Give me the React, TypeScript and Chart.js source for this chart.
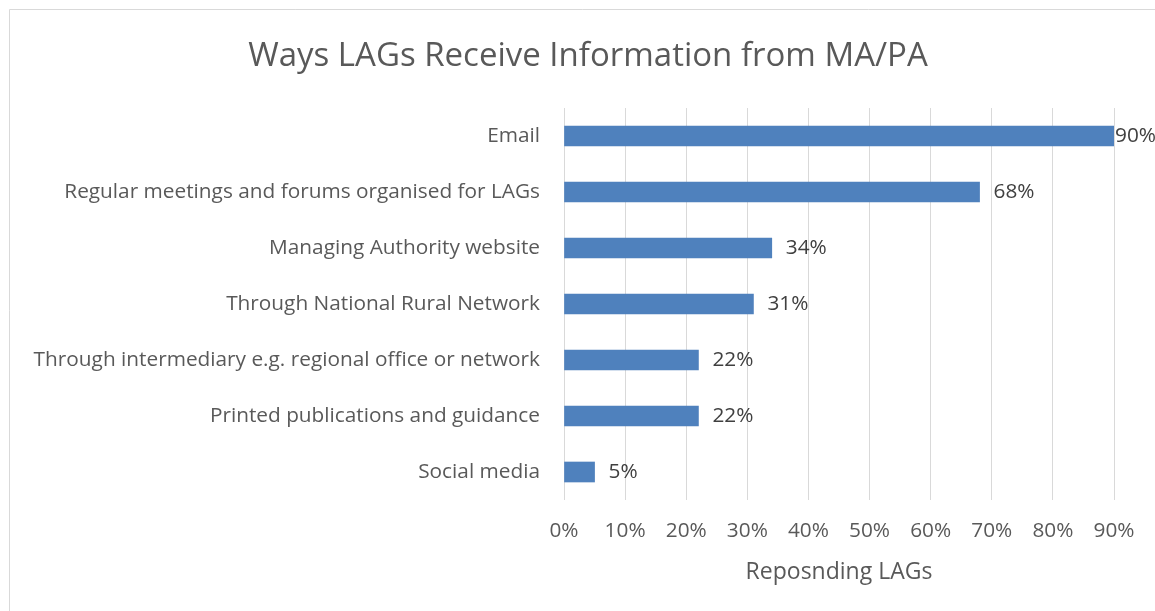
import React, { useEffect, useRef } from "react";
import { Chart, registerables } from "chart.js";

Chart.register(...registerables);

const categories = [
  "Email",
  "Regular meetings and forums organised for LAGs",
  "Managing Authority website",
  "Through National Rural Network",
  "Through intermediary e.g. regional office or network",
  "Printed publications and guidance",
  "Social media",
];
const values = [90, 68, 34, 31, 22, 22, 5];
const xTicks = [0, 10, 20, 30, 40, 50, 60, 70, 80, 90];
const titleText = "Ways LAGs Receive Information from MA/PA";
const xAxisTitle = "Reposnding LAGs";

const FONT = "'Open Sans', 'Noto Sans', sans-serif";

export default function App() {
  const ref = useRef<HTMLCanvasElement | null>(null);

  useEffect(() => {
    if (!ref.current) return;
    const W = 1155;
    const H = 611;
    const plotLeft = 564;
    const plotRight = 1114;
    const plotTop = 108;
    const plotBottom = 500;
    const padR = W - plotRight;
    const padL = 0;

    const bgPlugin = {
      id: "bgBorder",
      beforeDraw(chart: any) {
        const ctx = chart.ctx;
        ctx.save();
        ctx.fillStyle = "#ffffff";
        ctx.fillRect(0, 0, chart.width, chart.height);
        ctx.strokeStyle = "#D9D9D9";
        ctx.lineWidth = 1;
        ctx.beginPath();
        ctx.moveTo(9.5, chart.height);
        ctx.lineTo(9.5, 9.5);
        ctx.lineTo(chart.width, 9.5);
        ctx.stroke();
        ctx.restore();
      },
    };

    const titlePlugin = {
      id: "centeredTitle",
      afterDraw(chart: any) {
        const ctx = chart.ctx;
        ctx.save();
        ctx.font = `33px ${FONT}`;
        ctx.fillStyle = "#595959";
        ctx.textAlign = "center";
        ctx.textBaseline = "middle";
        ctx.fillText(titleText, 588, 57);
        ctx.restore();
      },
    };

    const labelPlugin = {
      id: "valueLabels",
      afterDatasetsDraw(chart: any) {
        const ctx = chart.ctx;
        const meta = chart.getDatasetMeta(0);
        ctx.save();
        ctx.font = `20.8px ${FONT}`;
        ctx.fillStyle = "#404040";
        ctx.textAlign = "left";
        ctx.textBaseline = "middle";
        meta.data.forEach((bar: any, i: number) => {
          const txt = values[i] + "%";
          const w = ctx.measureText(txt).width;
          let x = bar.x + 14;
          if (x + w > chart.width) x = Math.max(bar.x + 1, chart.width - w);
          ctx.fillText(txt, x, bar.y);
        });
        ctx.restore();
      },
    };

    const chart = new Chart(ref.current, {
      type: "bar",
      data: {
        labels: categories,
        datasets: [
          {
            data: values,
            backgroundColor: "#4F81BD",
            borderWidth: 0,
            barThickness: 20,
          },
        ],
      },
      options: {
        indexAxis: "y",
        responsive: false,
        animation: false,
        maintainAspectRatio: false,
        layout: { padding: { left: padL, right: padR, top: plotTop, bottom: 0 } },
        plugins: {
          legend: { display: false },
          tooltip: { enabled: false },
          title: { display: false },
        },
        scales: {
          x: {
            type: "linear",
            min: 0,
            max: 90,
            afterBuildTicks(scale: any) {
              scale.ticks = xTicks.map((v) => ({ value: v }));
            },
            afterFit(scale: any) {
              scale.height = H - plotBottom;
            },
            grid: { color: "#D9D9D9", lineWidth: 1, drawTicks: false },
            border: { display: false },
            ticks: {
              padding: 19,
              color: "#595959",
              font: { family: FONT, size: 20.8 },
              callback: (v: any) => v + "%",
              maxRotation: 0,
              autoSkip: false,
            },
            title: {
              display: true,
              text: xAxisTitle,
              color: "#595959",
              font: { family: FONT, size: 23 },
              padding: { top: 0, bottom: 25 },
            },
          },
          y: {
            afterFit(scale: any) {
              scale.width = plotLeft - padL;
            },
            grid: { display: false, drawTicks: false },
            border: { display: false },
            ticks: {
              padding: 24,
              color: "#595959",
              font: { family: FONT, size: 20.8 },
              autoSkip: false,
            },
          },
        },
      },
      plugins: [bgPlugin, labelPlugin, titlePlugin],
    });
    return () => chart.destroy();
  }, []);

  return (
    <div style={{ position: "absolute", left: 0, top: 0, width: 1155, height: 611, overflow: "hidden" }}>
      <canvas ref={ref} width={1155} height={611} style={{ display: "block", width: 1155, height: 611 }} />
    </div>
  );
}
